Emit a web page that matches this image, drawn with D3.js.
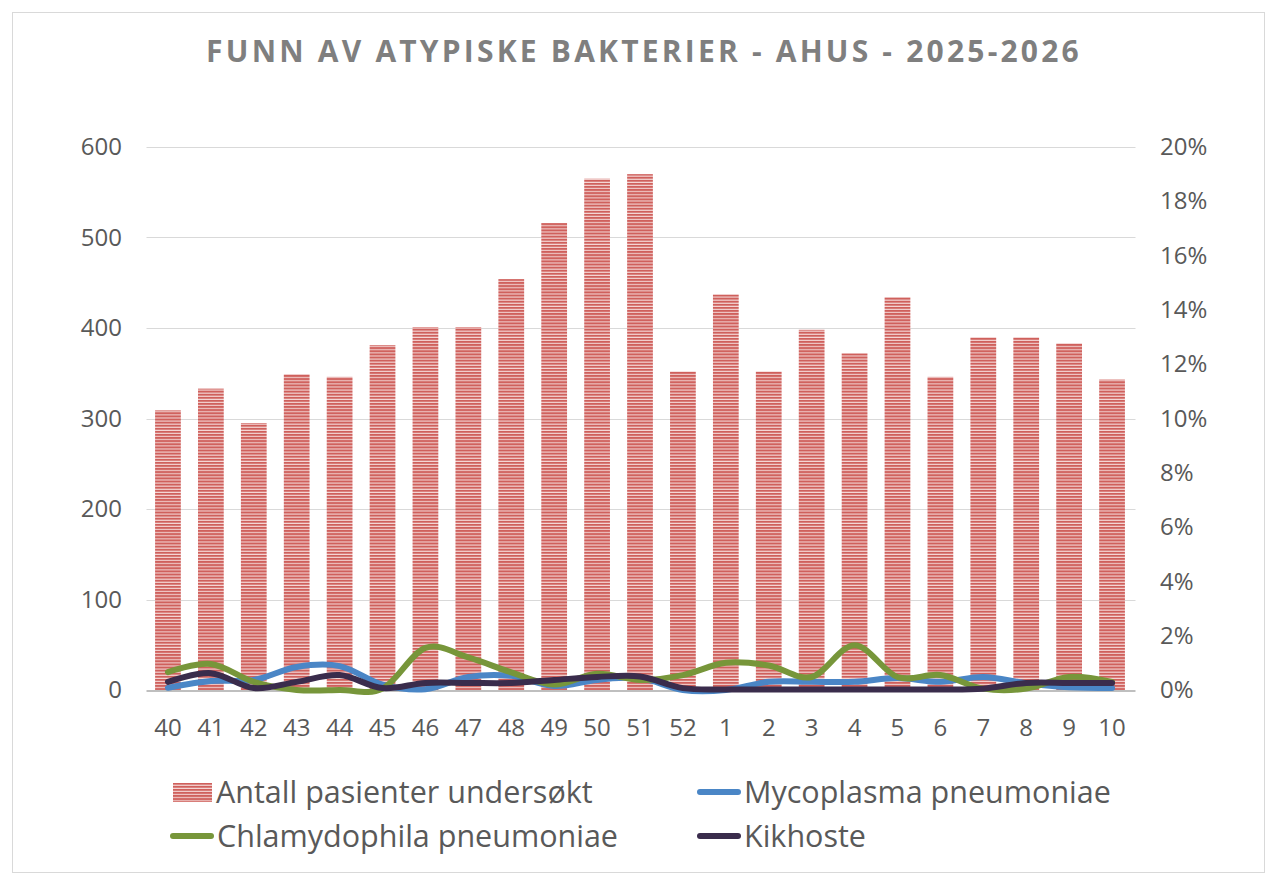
<!DOCTYPE html>
<html lang="no">
<head>
<meta charset="UTF-8">
<title>Funn av atypiske bakterier</title>
<script src="https://d3js.org/d3.v7.min.js"></script>
<style>
  body { margin: 0; background: #fff; }
  text { font-family: "Open Sans", "Noto Sans", sans-serif; fill: #595959; }
</style>
</head>
<body>
<svg width="1273" height="879"></svg>
<script>
  // uker
  const weeks = ["40","41","42","43","44","45","46","47","48","49","50","51","52","1","2","3","4","5","6","7","8","9","10"]
  // antall pasienter undersøkt (venstre akse)
  const tested = [309,333,295,349,346,381,401,401,454,516,565,570,352,437,352,398,372,434,346,390,390,383,343]
  // andel positive i % (høyre akse)
  const mycoplasma = [0.08,0.33,0.37,0.85,0.88,0.2,0.03,0.48,0.52,0.15,0.37,0.44,0.0,0.0,0.3,0.3,0.3,0.44,0.3,0.48,0.25,0.1,0.07]
  const chlamydophila = [0.66,0.96,0.3,0.0,0.0,0.05,1.55,1.2,0.65,0.2,0.6,0.37,0.55,1.0,0.9,0.48,1.65,0.48,0.55,0.05,0.05,0.48,0.3]
  const kikhoste = [0.3,0.62,0.07,0.3,0.55,0.07,0.26,0.26,0.26,0.37,0.48,0.5,0.07,0.02,0.02,0.02,0.02,0.02,0.02,0.05,0.26,0.26,0.26]
  const leftTicks = [0,100,200,300,400,500,600]
  const rightTicks = [0,2,4,6,8,10,12,14,16,18,20]

  const series = [
    { name: "Mycoplasma pneumoniae", values: mycoplasma, color: "#4a86c6" },
    { name: "Chlamydophila pneumoniae", values: chlamydophila, color: "#77963a" },
    { name: "Kikhoste", values: kikhoste, color: "#3a2c4c" }
  ]

  const svg = d3.select("svg")
  const plotLeft = 146.5, plotRight = 1133.5, plotTop = 147, plotBottom = 690

  svg.append("rect")
    .attr("x", 12.5).attr("y", 12.5).attr("width", 1252).attr("height", 860)
    .attr("fill", "#fff").attr("stroke", "#d9d9d9")

  const defs = svg.append("defs")
  const pat = defs.append("pattern")
    .attr("id", "stripes").attr("patternUnits", "userSpaceOnUse")
    .attr("width", 6).attr("height", 3.1)
  pat.append("rect").attr("width", 6).attr("height", 3.1).attr("fill", "#f4d6d5")
  pat.append("rect").attr("width", 6).attr("height", 2).attr("fill", "#cf605c")

  const x = d3.scaleBand().domain(weeks).range([plotLeft, plotRight]).paddingInner(0.4).paddingOuter(0.2)
  const y = d3.scaleLinear().domain([0, 600]).range([plotBottom, plotTop])
  const y2 = d3.scaleLinear().domain([0, 20]).range([plotBottom, plotTop])

  // grid
  svg.append("g")
    .selectAll("line")
    .data(leftTicks.filter(d => d > 0))
    .join("line")
    .attr("x1", plotLeft).attr("x2", plotRight + 2)
    .attr("y1", d => Math.round(y(d)) + 0.5).attr("y2", d => Math.round(y(d)) + 0.5)
    .attr("stroke", "#d9d9d9").attr("stroke-width", 1)

  // bars
  svg.append("g")
    .selectAll("rect")
    .data(tested)
    .join("rect")
    .attr("x", (d, i) => x(weeks[i]))
    .attr("width", x.bandwidth())
    .attr("y", d => y(d))
    .attr("height", d => plotBottom - y(d))
    .attr("fill", "url(#stripes)")

  // axis line
  svg.append("line")
    .attr("x1", plotLeft).attr("x2", plotRight + 2)
    .attr("y1", plotBottom + 1).attr("y2", plotBottom + 1)
    .attr("stroke", "#bfbfbf").attr("stroke-width", 2)

  // lines
  const line = d3.line()
    .x((d, i) => x(weeks[i]) + x.bandwidth() / 2)
    .y(d => y2(d))
    .curve(d3.curveCatmullRom.alpha(0))

  svg.append("g")
    .selectAll("path")
    .data(series)
    .join("path")
    .attr("d", d => line(d.values))
    .attr("fill", "none")
    .attr("stroke", d => d.color)
    .attr("stroke-width", 6)
    .attr("stroke-linecap", "round")
    .attr("stroke-linejoin", "round")

  const styleTicks = g => g.selectAll("text").attr("font-size", 24).attr("fill", "#595959").style("font-family", null)

  // left axis
  const yAxis = d3.axisLeft(y).tickValues(leftTicks).tickSize(0).tickPadding(0)
  svg.append("g")
    .attr("transform", "translate(122,0)")
    .call(yAxis)
    .call(g => g.select(".domain").remove())
    .call(styleTicks)

  // right axis
  const y2Axis = d3.axisRight(y2).tickValues(rightTicks).tickSize(0).tickPadding(0).tickFormat(d => d + "%")
  svg.append("g")
    .attr("transform", "translate(1160,0)")
    .call(y2Axis)
    .call(g => g.select(".domain").remove())
    .call(styleTicks)

  // x axis
  const xAxis = d3.axisBottom(x).tickSize(0).tickPadding(0)
  svg.append("g")
    .attr("transform", "translate(0,719)")
    .call(xAxis)
    .call(g => g.select(".domain").remove())
    .call(styleTicks)

  // title
  svg.append("text")
    .attr("x", 644).attr("y", 62)
    .attr("text-anchor", "middle")
    .attr("font-size", 30).attr("font-weight", "bold")
    .attr("letter-spacing", 3.2)
    .style("fill", "#7f7f7f")
    .text("FUNN AV ATYPISKE BAKTERIER - AHUS - 2025-2026")

  // legend
  const legend = [
    { name: "Antall pasienter undersøkt", type: "bar", lx: 173, ly: 792 },
    { name: series[0].name, type: "line", color: series[0].color, lx: 698, ly: 792 },
    { name: series[1].name, type: "line", color: series[1].color, lx: 171, ly: 836 },
    { name: series[2].name, type: "line", color: series[2].color, lx: 698, ly: 836 }
  ]
  const lg = svg.append("g").selectAll("g").data(legend).join("g")
    .attr("transform", d => `translate(${d.lx},${d.ly})`)
  lg.filter(d => d.type === "bar").append("rect")
    .attr("x", 0).attr("y", -9).attr("width", 39).attr("height", 19)
    .attr("fill", "url(#stripes)")
  lg.filter(d => d.type === "line").append("line")
    .attr("x1", 2).attr("x2", 40).attr("y1", 0).attr("y2", 0)
    .attr("stroke", d => d.color).attr("stroke-width", 6).attr("stroke-linecap", "round")
  lg.append("text")
    .attr("x", d => d.type === "bar" ? 43 : 46).attr("y", 0).attr("dy", "0.35em")
    .attr("font-size", 30.5)
    .text(d => d.name)
</script>
</body>
</html>
